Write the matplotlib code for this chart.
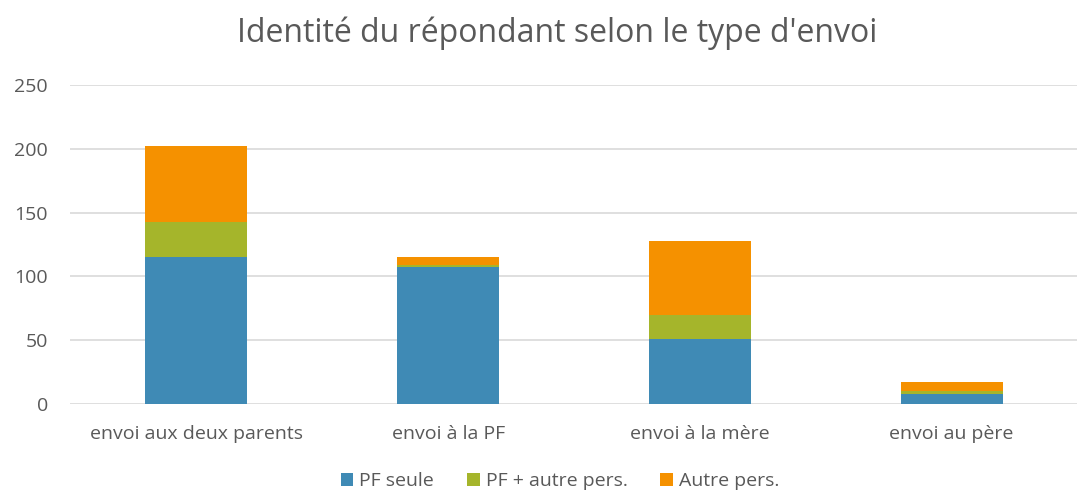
import matplotlib.pyplot as plt
import numpy as np

categories = ['envoi aux deux parents', 'envoi à la PF', 'envoi à la mère', 'envoi au père']
pf_seule = [115, 107, 51, 8]
pf_autre = [28, 2, 19, 2]
autre_pers = [59, 6, 58, 7]
series_names = ['PF seule', 'PF + autre pers.', 'Autre pers.']
colors = ['#3f8ab5', '#a5b52b', '#f59100']

plt.rcParams['font.family'] = ['Open Sans', 'DejaVu Sans']

fig = plt.figure(figsize=(10.77, 5.0), dpi=100)
ax = fig.add_axes([0.065, 0.192, 0.935, 0.638])

x = np.arange(len(categories))
bottom = np.zeros(len(categories))
for vals, name, col in zip([pf_seule, pf_autre, autre_pers], series_names, colors):
    ax.bar(x, vals, width=0.405, bottom=bottom, color=col, label=name, zorder=3)
    bottom += np.array(vals)

ax.set_ylim(0, 250)
ax.set_xlim(-0.502, len(categories) - 0.502)
ax.set_yticks(range(0, 251, 50))
ax.yaxis.grid(True, color='#d9d9d9', linewidth=1.2, zorder=0)
for s in ax.spines.values():
    s.set_visible(False)
ax.tick_params(axis='both', length=0, labelsize=14, colors='#595959')
ax.tick_params(axis='x', pad=15)
ax.tick_params(axis='y', pad=16)
ax.set_xticks(x)
ax.set_xticklabels(categories)

fig.text(0.517, 0.966, "Identité du répondant selon le type d'envoi", ha='center', va='top',
         fontsize=23, color='#595959')

fig.legend(loc='lower center', bbox_to_anchor=(0.52, -0.015), ncol=3, frameon=False,
           fontsize=14, handlelength=0.65, handleheight=0.65, columnspacing=1.7,
           handletextpad=0.3, labelcolor='#595959')

fig.savefig('out.png', dpi=100)
